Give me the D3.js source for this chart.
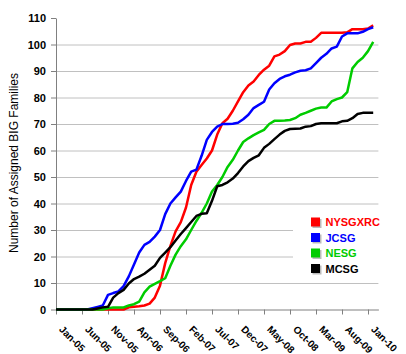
<!DOCTYPE html>
<html>
<head>
<meta charset="utf-8">
<script src="https://d3js.org/d3.v7.min.js"></script>
<style>
    body { margin: 0; background: #fff; }
    svg { font-family: Arial, "Liberation Sans", sans-serif; }
</style>
</head>
<body>
<svg width="406" height="354"></svg>
<script>
// month index 0 = Jan-05, one value per month
var months = d3.range(0, 62);
var tickMonths = [0, 5, 10, 15, 20, 25, 30, 35, 40, 45, 50, 55, 60];
var tickLabels = ["Jan-05", "Jun-05", "Nov-05", "Apr-06", "Sep-06", "Feb-07", "Jul-07",
    "Dec-07", "May-08", "Oct-08", "Mar-09", "Aug-09", "Jan-10"];
var yTicks = [0, 10, 20, 30, 40, 50, 60, 70, 80, 90, 100, 110];

var seriesNames = ["NYSGXRC", "JCSG", "NESG", "MCSG"];
var seriesColors = ["#ff0000", "#0000ff", "#00cc00", "#000000"];

var nysgxrc = [0, 0, 0, 0, 0, 0, 0, 0, 0, 0, 0, 0, 0, 0,
    0.8, 1, 1.2, 1.5, 2.2, 4.5, 9, 17.5, 24, 29.5,
    33, 38.5, 47, 52, 54.5, 57, 60, 66, 70.3, 72,
    75, 78.5, 82, 84.5, 86, 88.5, 90.5, 92, 95.5, 96.2,
    97.5, 99.8, 100.4, 100.4, 101, 101, 102.5, 104.4, 104.4, 104.4,
    104.4, 104.4, 104.6, 105.8, 105.8, 105.8, 106, 107.2];
var jcsg = [0, 0, 0, 0, 0, 0, 0, 0.5, 1, 1.5,
    5.5, 6.2, 6.8, 8.8, 12.5, 17, 21.5, 24.4, 25.5, 27.5,
    30, 36, 40, 42.3, 44.5, 48.5, 52, 52.8, 58, 64,
    67, 69, 70, 70, 70.1, 70.5, 71.8, 73.5, 76, 77.2,
    78.4, 83, 85.4, 87, 88, 88.6, 89.5, 90.1, 90.3, 91,
    93, 95, 96.5, 98.5, 99.2, 103, 104.2, 104.2, 104.2, 104.8,
    105.8, 106.5];
var nesg = [0, 0, 0, 0, 0, 0, 0, 0, 0, 0,
    0.5, 0.8, 0.8, 0.8, 1.5, 2, 3, 6.5, 8.6, 9.7,
    10.7, 11.8, 16.5, 20.7, 23.9, 26.5, 30, 33.4, 36.5, 40,
    44.5, 47, 50, 53.8, 56.5, 60, 63.2, 64.6, 65.8, 66.8,
    67.8, 70, 71.2, 71.2, 71.3, 71.5, 72.2, 73.5, 74.2, 75,
    75.8, 76.2, 76.2, 78.5, 79.4, 80, 82, 91, 93.4, 95,
    97.5, 101];
var mcsg = [0, 0, 0, 0, 0, 0, 0, 0, 0.4, 0.8,
    1, 4.5, 6.2, 7.4, 9.8, 11.5, 12.4, 13.5, 15, 16.5,
    19.5, 21.5, 23.5, 26, 28.5, 30.7, 33, 35.3, 36.1, 36.3,
    41, 46.5, 47, 48, 49.4, 51.5, 54, 56, 57.2, 58.2,
    61, 62.5, 64.3, 66, 67.4, 68.1, 68.2, 68.3, 69, 69.2,
    70, 70.3, 70.3, 70.3, 70.3, 71, 71.2, 72.2, 73.8, 74.2,
    74.2, 74.2];

var seriesValues = [nysgxrc, jcsg, nesg, mcsg];

var svg = d3.select("svg"),
    plotLeft = 56,
    plotRight = 378.4,
    plotBottom = 309.5,
    plotTop = 18;

var x = d3.scaleLinear()
    .domain([0, 62])
    .range([plotLeft, plotRight]);

var y = d3.scaleLinear()
    .domain([0, 110])
    .range([plotBottom, plotTop]);

// gridlines (no line at 0 or 110)
svg.append("g")
    .attr("class", "grid")
    .attr("transform", "translate(" + plotLeft + ",0)")
    .call(d3.axisLeft(y).tickValues(d3.range(10, 101, 10)).tickSize(-(plotRight - plotLeft)).tickFormat(""))
    .call(function(g) {
        g.select(".domain").remove();
        g.selectAll("line").style("stroke", "#c0c0c0").style("stroke-width", 1);
    });

// y axis
svg.append("g")
    .attr("class", "axis axis--y")
    .attr("transform", "translate(" + plotLeft + ",0)")
    .call(d3.axisLeft(y).tickValues(yTicks).tickSize(5).tickSizeOuter(0).tickPadding(5))
    .call(function(g) {
        g.select(".domain").style("stroke", "#808080");
        g.selectAll("line").style("stroke", "#808080");
        g.selectAll("text")
            .style("font-size", "11px")
            .style("font-weight", "bold")
            .style("fill", "#000");
    });

// x axis
svg.append("g")
    .attr("class", "axis axis--x")
    .attr("transform", "translate(0," + plotBottom + ")")
    .call(d3.axisBottom(x).tickValues(tickMonths).tickSize(5).tickSizeOuter(0)
        .tickFormat(function(d, i) { return tickLabels[i]; }))
    .call(function(g) {
        g.select(".domain").style("stroke", "#808080");
        g.selectAll("line").style("stroke", "#808080");
        g.selectAll("text")
            .attr("x", 0)
            .attr("y", 0)
            .attr("dy", null)
            .attr("transform", "translate(2,20.5) rotate(45)")
            .style("text-anchor", "start")
            .style("font-size", "10px")
            .style("font-weight", "bold")
            .style("fill", "#000");
    });

svg.append("text")
    .attr("transform", "translate(18,163) rotate(-90)")
    .attr("text-anchor", "middle")
    .style("font-size", "12px")
    .text("Number of Assigned BIG Families");

var line = d3.line()
    .x(function(d, i) { return x(months[i]); })
    .y(function(d) { return y(d); });

svg.append("g")
    .selectAll("path")
    .data(seriesValues)
    .enter().append("path")
    .attr("d", line)
    .style("fill", "none")
    .style("stroke", function(d, i) { return seriesColors[i]; })
    .style("stroke-width", 2.5)
    .style("stroke-linejoin", "round");

// legend with white background
var legend = svg.append("g");
legend.append("rect")
    .attr("x", 293)
    .attr("y", 208)
    .attr("width", 90)
    .attr("height", 72)
    .style("fill", "#fff");

var item = legend.selectAll(".item")
    .data(seriesNames)
    .enter().append("g")
    .attr("class", "item")
    .attr("transform", function(d, i) { return "translate(311," + (217.5 + i * 15.5) + ")"; });

item.append("rect")
    .attr("x", 1.5)
    .attr("y", 1.5)
    .attr("width", 9)
    .attr("height", 9)
    .style("fill", "#bbb");

item.append("rect")
    .attr("width", 9)
    .attr("height", 9)
    .style("fill", function(d, i) { return seriesColors[i]; });

item.append("text")
    .attr("x", 14.5)
    .attr("y", 8.8)
    .style("font-size", "11px")
    .style("font-weight", "bold")
    .style("fill", function(d, i) { return seriesColors[i]; })
    .text(function(d) { return d; });
</script>
</body>
</html>
